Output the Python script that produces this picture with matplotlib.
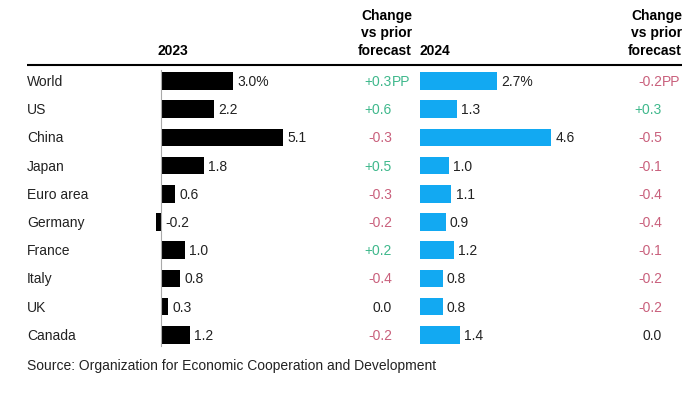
import matplotlib
matplotlib.use('Agg')
import matplotlib.pyplot as plt

plt.rcParams['font.family'] = ['Liberation Sans', 'DejaVu Sans']

# Data
countries = ['World', 'US', 'China', 'Japan', 'Euro area', 'Germany',
             'France', 'Italy', 'UK', 'Canada']
growth_2023 = [3.0, 2.2, 5.1, 1.8, 0.6, -0.2, 1.0, 0.8, 0.3, 1.2]
change_2023 = [0.3, 0.6, -0.3, 0.5, -0.3, -0.2, 0.2, -0.4, 0.0, -0.2]
growth_2024 = [2.7, 1.3, 4.6, 1.0, 1.1, 0.9, 1.2, 0.8, 0.8, 1.4]
change_2024 = [-0.2, 0.3, -0.5, -0.1, -0.4, -0.4, -0.1, -0.2, -0.2, 0.0]

W, H = 700, 402
fig = plt.figure(figsize=(W / 100, H / 100), dpi=100)
fig.patch.set_facecolor('white')

GREEN = '#3fb88c'
RED = '#c9607c'
DARK = '#222222'
BLUE = '#12a9f2'
FS = 10

# background axes in pixel coordinates for text
bg = fig.add_axes([0, 0, 1, 1])
bg.set_xlim(0, W)
bg.set_ylim(H, 0)
bg.axis('off')

row_top = 82
row_step = 28.2
n = len(countries)


def row_y(i):
    return row_top + i * row_step


def px_axes(left, top, width, height):
    return fig.add_axes([left / W, 1 - (top + height) / H, width / W, height / H])


# bar axes: 2023 (24 px per unit), 2024 (28.5 px per unit)
ax_top = row_top - row_step / 2
ax_h = n * row_step
ax1 = px_axes(161 - 0.5 * 24, ax_top, 6 * 24, ax_h)
ax1.set_xlim(-0.5, 5.5)
ax2 = px_axes(420 - 0.5 * 28.5, ax_top, 5.5 * 28.5, ax_h)
ax2.set_xlim(-0.5, 5.0)

for ax, vals, color in [(ax1, growth_2023, 'black'), (ax2, growth_2024, BLUE)]:
    ax.set_ylim(n - 0.5, -0.5)
    ax.barh(range(n), vals, height=0.63, color=color, edgecolor='none')
    ax.axis('off')
    for i, v in enumerate(vals):
        label = f'{v:.1f}%' if i == 0 else f'{v:.1f}'
        ax.annotate(label, (max(v, 0), i), xytext=(3, 0), textcoords='offset points',
                    ha='left', va='center', fontsize=FS, color=DARK)

ax1.axvline(0, color='#aaaaaa', lw=0.8, ymin=0.01, ymax=0.99)

# country labels
for i, c in enumerate(countries):
    bg.text(27, row_y(i), c, ha='left', va='center', fontsize=FS, color=DARK)


def change_column(vals, x_right):
    for i, v in enumerate(vals):
        if v > 0:
            txt, col = f'+{v:.1f}', GREEN
        elif v < 0:
            txt, col = f'{v:.1f}', RED
        else:
            txt, col = '0.0', DARK
        bg.text(x_right, row_y(i), txt, ha='right', va='center', fontsize=FS, color=col)
        if i == 0:
            bg.text(x_right, row_y(i), 'PP', ha='left', va='center', fontsize=FS, color=col)


change_column(change_2023, 392)
change_column(change_2024, 662)

# headers
for x in (412, 682):
    for y, t in zip((16, 33, 51), ('Change', 'vs prior', 'forecast')):
        bg.text(x, y, t, ha='right', va='center', fontsize=FS, fontweight='bold', color='black')
bg.text(157, 51, '2023', ha='left', va='center', fontsize=FS, fontweight='bold', color='black')
bg.text(420, 51, '2024', ha='left', va='center', fontsize=FS, fontweight='bold', color='black')

bg.plot([27, 682], [66, 66], color='black', lw=1.5, solid_capstyle='butt')

bg.text(27, 366, 'Source: Organization for Economic Cooperation and Development',
        ha='left', va='center', fontsize=FS, color=DARK)

fig.savefig('out.png', dpi=100)
